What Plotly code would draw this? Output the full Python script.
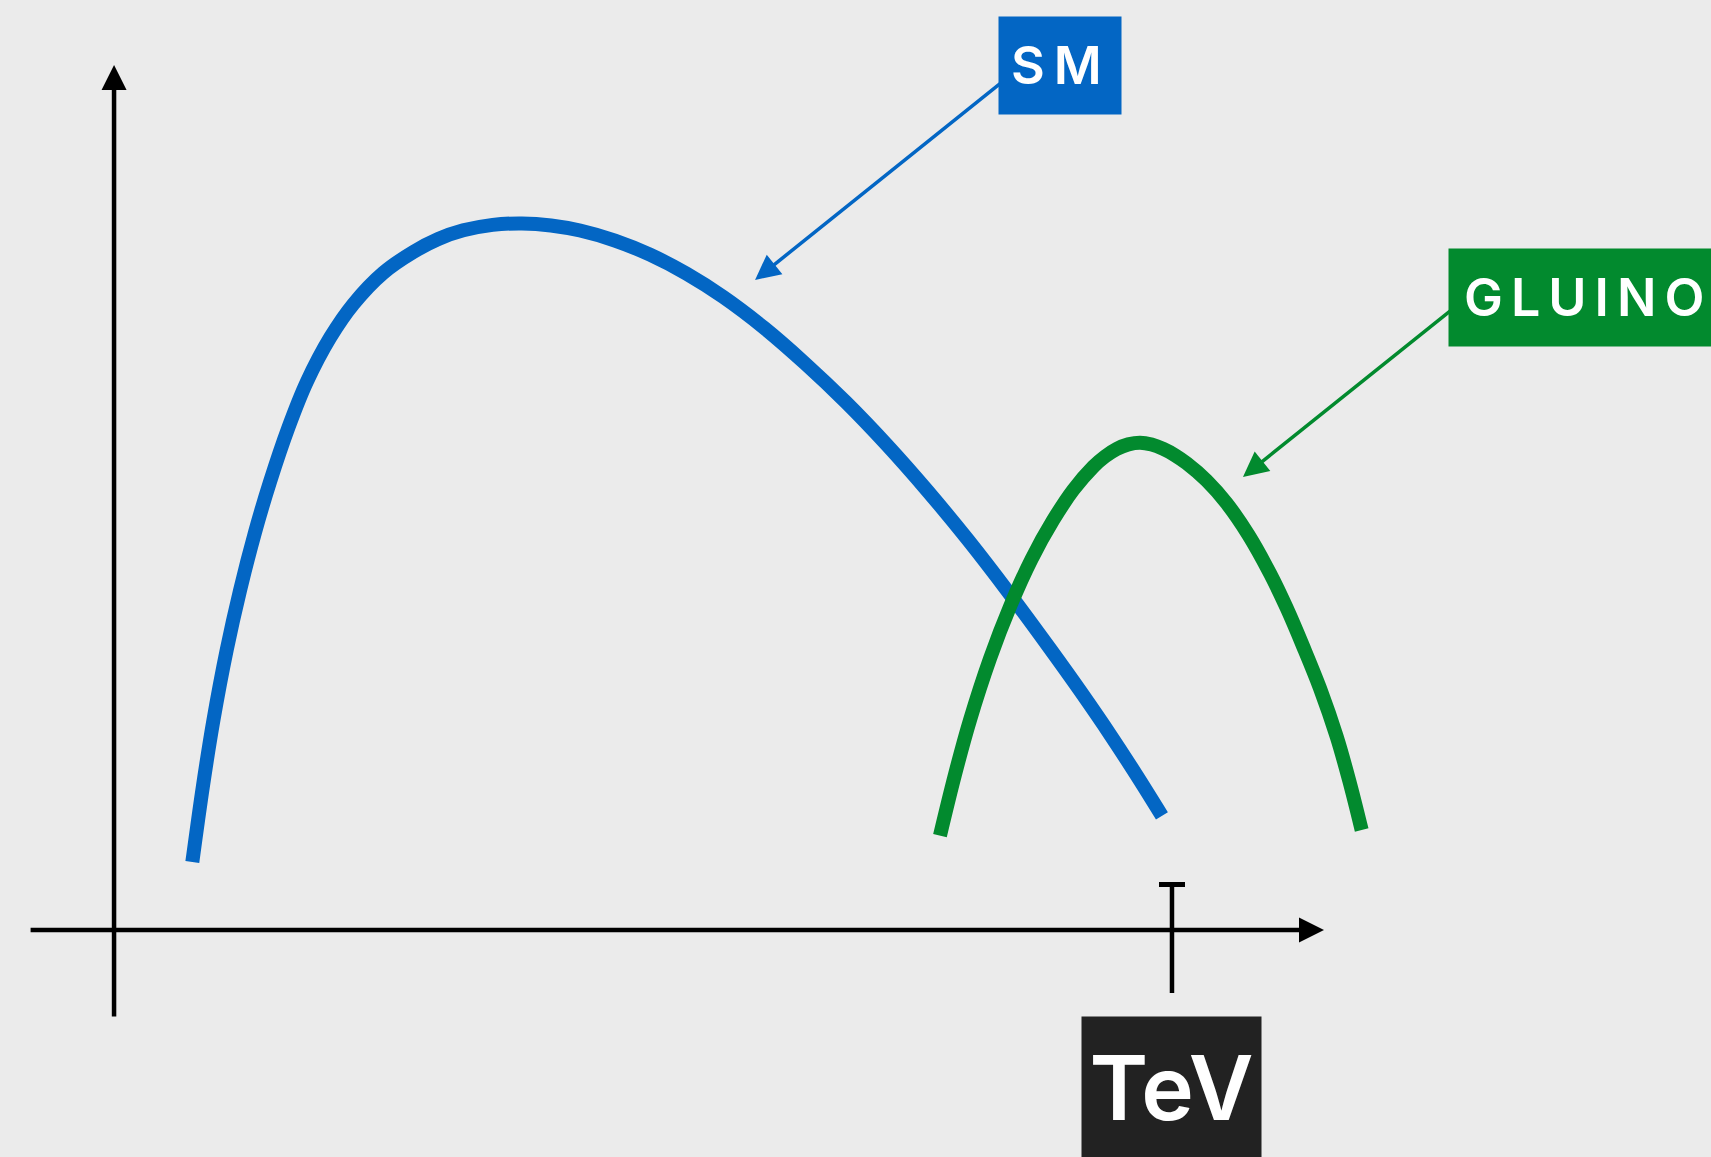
import plotly.graph_objects as go

# Standard Model background: energy (TeV) vs. event rate (arbitrary units)
sm_energy = [0.0740, 0.0839, 0.0939, 0.1065, 0.1191, 0.1333, 0.1474, 0.1648,
             0.1821, 0.2042, 0.2262, 0.2545, 0.2829, 0.3065, 0.3301, 0.3579,
             0.3856, 0.4130, 0.4405, 0.4735, 0.5066, 0.5411, 0.5756, 0.6144,
             0.6531, 0.6919, 0.7306, 0.7689, 0.8072, 0.8459, 0.8847, 0.9135,
             0.9423, 0.9664, 0.9905]
sm_rate = [0.0786, 0.1654, 0.2423, 0.3238, 0.3927, 0.4600, 0.5180, 0.5807,
           0.6333, 0.6847, 0.7236, 0.7597, 0.7838, 0.7988, 0.8088, 0.8152,
           0.8168, 0.8145, 0.8086, 0.7970, 0.7807, 0.7588, 0.7320, 0.6962,
           0.6551, 0.6101, 0.5607, 0.5077, 0.4509, 0.3896, 0.3252, 0.2759,
           0.2245, 0.1792, 0.1320]

# Gluino signal bump
gluino_energy = [0.7807, 0.7949, 0.8091, 0.8280, 0.8469, 0.8673, 0.8878,
                 0.9067, 0.9256, 0.9367, 0.9477, 0.9587, 0.9698, 0.9808,
                 0.9918, 1.0028, 1.0139, 1.0328, 1.0517, 1.0722, 1.0926,
                 1.1084, 1.1241, 1.1399, 1.1557, 1.1675, 1.1793]
gluino_rate = [0.1092, 0.1798, 0.2428, 0.3139, 0.3738, 0.4288, 0.4740,
               0.5088, 0.5356, 0.5474, 0.5561, 0.5614, 0.5634, 0.5612,
               0.5561, 0.5489, 0.5395, 0.5195, 0.4933, 0.4569, 0.4124,
               0.3723, 0.3275, 0.2795, 0.2235, 0.1728, 0.1156]

# Axis tick: 1 TeV
tick_energy = [1.0]
tick_labels = ["TeV"]

BG = "#EBEBEB"
BLUE = "#0366C4"
GREEN = "#028A2E"
DARK = "#222222"
FONT = "Inter"

W, H = 1711, 1157
X_RANGE = [-0.1078, 1.5095]
Y_RANGE = [-0.2624, 1.0751]

fig = go.Figure()
fig.add_trace(go.Scatter(x=sm_energy, y=sm_rate, mode="lines",
                         line=dict(color=BLUE, width=14, shape="spline",
                                   smoothing=1, simplify=False),
                         hoverinfo="skip"))
fig.add_trace(go.Scatter(x=gluino_energy, y=gluino_rate, mode="lines",
                         line=dict(color=GREEN, width=14, shape="spline",
                                   smoothing=1, simplify=False),
                         hoverinfo="skip"))

AXW = 4.5
annotations = [
    # vertical axis with arrow
    dict(x=0, y=1.0, ax=0, ay=-0.1017, xref="x", yref="y", axref="x", ayref="y",
         text="", showarrow=True, arrowhead=2, arrowsize=5 / AXW,
         arrowwidth=AXW, arrowcolor="black"),
    # horizontal axis with arrow
    dict(x=1.1437, y=0, ax=-0.0803, ay=0, xref="x", yref="y", axref="x", ayref="y",
         text="", showarrow=True, arrowhead=2, arrowsize=5 / AXW,
         arrowwidth=AXW, arrowcolor="black"),
    # pointer to the SM curve
    dict(x=0.6059, y=0.7514, ax=0.8507, ay=0.9913, xref="x", yref="y",
         axref="x", ayref="y", text="", showarrow=True, arrowhead=2,
         arrowsize=5 / 3.5, arrowwidth=3.5, arrowcolor=BLUE),
    # pointer to the gluino curve
    dict(x=1.0671, y=0.5237, ax=1.2760, ay=0.7283, xref="x", yref="y",
         axref="x", ayref="y", text="", showarrow=True, arrowhead=2,
         arrowsize=5 / 3.5, arrowwidth=3.5, arrowcolor=GREEN),
    # SM label
    dict(x=0.8355, y=1.0566, xref="x", yref="y", xanchor="left", yanchor="top",
         showarrow=False, bgcolor=BLUE, borderpad=12, width=98, height=73,
         align="left", valign="middle",
         text='<span style="letter-spacing:9px">SM</span>',
         font=dict(family=FONT, size=52, color="white", weight=600)),
    # GLUINO label
    dict(x=1.2609, y=0.7884, xref="x", yref="y", xanchor="left", yanchor="top",
         showarrow=False, bgcolor=GREEN, borderpad=15, width=300, height=67,
         align="left", valign="middle",
         text='<span style="letter-spacing:8px">GLUINO</span>',
         font=dict(family=FONT, size=52, color="white", weight=600)),
]

# TeV tick label below the axis
for e, lab in zip(tick_energy, tick_labels):
    annotations.append(dict(x=e, y=-0.0994, xref="x", yref="y", xanchor="center",
                            yanchor="top", showarrow=False, bgcolor=DARK,
                            borderpad=0, width=179, height=141, align="center",
                            valign="middle", text=lab,
                            font=dict(family=FONT, size=89, color="white",
                                      weight=600)))

shapes = []
for e in tick_energy:
    shapes.append(dict(type="line", xref="x", yref="y", x0=e, x1=e,
                       y0=-0.0728, y1=0.0555, line=dict(color="black", width=AXW)))
    shapes.append(dict(type="line", xref="x", yref="y", x0=e - 0.0123,
                       x1=e + 0.0123, y0=0.0526, y1=0.0526,
                       line=dict(color="black", width=5)))

fig.update_layout(
    width=W, height=H,
    margin=dict(l=0, r=0, t=0, b=0),
    paper_bgcolor=BG, plot_bgcolor=BG,
    showlegend=False,
    xaxis=dict(range=X_RANGE, visible=False, fixedrange=True),
    yaxis=dict(range=Y_RANGE, visible=False, fixedrange=True),
    annotations=annotations,
    shapes=shapes,
)

fig.write_html("out.html", config={"displayModeBar": False})
